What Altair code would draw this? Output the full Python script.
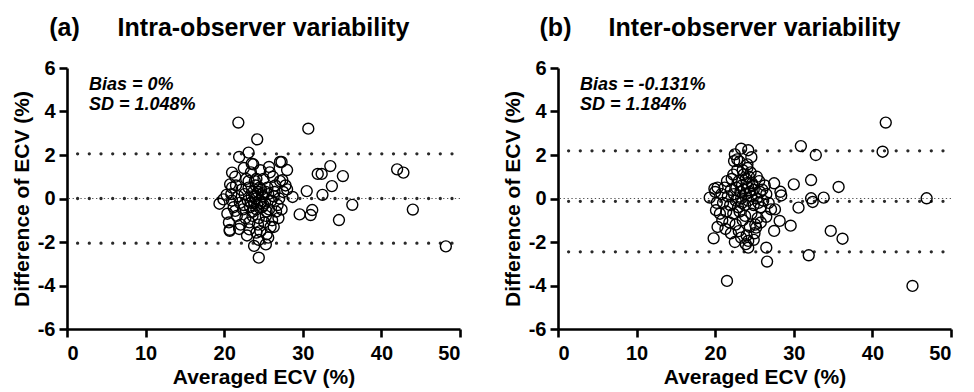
import altair as alt
import pandas as pd

FONT = "Liberation Sans"

# ---------- Panel (a): intra-observer ----------
a_avg = [21.8, 30.7, 24.2, 23.1, 21.9, 27.1, 27.3, 25.7, 23.7, 28.0, 21.0, 33.5,
         31.9, 32.4, 35.1, 42.0, 42.8, 33.7, 30.5, 32.5, 28.7, 36.3, 44.0, 29.6,
         31.0, 31.2, 34.6, 48.2, 24.4, 23.8, 25.3, 20.7, 20.7, 26.3, 25.4, 24.1,
         23.2, 27.4, 27.1, 28.0, 19.4, 19.9, 20.3, 20.75, 21.0, 21.4,
         22.5, 23.4, 24.6, 22.8, 23.9, 25.0, 26.2, 21.5, 22.2, 23.1, 24.0, 24.7,
         25.5, 26.5, 27.5, 21.8, 22.6, 23.5, 24.2, 24.9, 25.6, 26.3, 27.0, 22.0,
         23.0, 23.8, 24.5, 25.2, 26.0, 26.8, 21.2, 22.4, 23.3, 24.1, 24.8, 25.7,
         26.6, 21.6, 22.7, 23.6, 24.4, 25.3, 26.1, 22.1, 23.2, 24.3, 25.1, 25.9,
         22.9, 24.6, 25.6, 24.0, 24.3, 24.6, 23.7, 25.0, 24.2, 23.9, 24.8, 25.3,
         23.4, 24.5, 24.1, 23.6, 25.4, 22.5, 26.4, 23.1, 27.3, 20.4, 20.9, 21.4,
         20.6, 21.9, 27.8, 26.9, 25.8, 23.5, 24.4, 21.0]
a_diff = [3.49, 3.21, 2.72, 2.11, 1.91, 1.68, 1.68, 1.45, 1.57, 1.31, 1.19, 1.49,
          1.13, 1.13, 1.03, 1.34, 1.19, 0.57, 0.34, 0.17, 0.07, -0.29, -0.51, -0.73,
          -0.76, -0.53, -0.99, -2.20, -2.72, -2.18, -2.11, -1.49, -1.44, -1.31, -1.65, -1.57,
          -1.42, 0.84, 0.80, 0.42, -0.24, -0.04, 0.17, 0.65, 0.50, -0.57,
          1.4, 1.2, 1.3, 0.9, 0.8, 0.9, 1.0, 0.6, 0.4, 0.5, 0.6, 0.4,
          0.5, 0.6, 0.3, 0.1, 0.2, 0.1, 0.2, 0.1, 0.2, 0.1, 0.0, -0.2,
          -0.1, -0.2, -0.1, -0.2, -0.1, -0.3, -0.4, -0.5, -0.4, -0.5, -0.4, -0.5,
          -0.6, -0.8, -0.9, -0.8, -0.9, -0.8, -1.0, -1.2, -1.1, -1.2, -1.1, -1.3,
          -1.7, -1.5, -1.8, 0.0, 0.3, -0.2, 0.3, -0.3, -0.3, 0.1, 0.2, 0.3,
          -0.2, 0.5, 0.9, -0.6, -0.6, -0.3, 0.3, 0.8, -0.5, -0.7, 0.2, 1.0,
          -1.1, -1.4, 0.6, -0.9, 1.2, 1.6, -1.9, -0.1]
a_limits = [2.054, 0.0, -2.054]

# ---------- Panel (b): inter-observer ----------
b_avg = [41.7, 41.3, 30.9, 32.8, 23.3, 24.2, 22.5, 22.4, 24.1, 35.7, 32.2, 30.0,
         27.5, 28.3, 28.4, 33.8, 32.2, 32.4, 46.9, 30.6, 27.1, 27.6, 26.5, 28.2,
         29.6, 34.7, 36.2, 27.5, 26.5, 26.6, 31.9, 21.5, 45.1, 19.8, 20.3, 24.2,
         24.2, 23.3, 25.2, 19.9, 20.3, 19.3, 20.1,
         22.8, 23.6, 24.5, 25.3, 22.1, 23.0, 23.9, 24.7, 25.6, 26.3, 21.2, 22.0,
         22.7, 23.4, 24.2, 24.9, 25.7, 26.5, 20.8, 21.6, 22.4, 23.2, 23.9, 24.6,
         25.3, 26.1, 21.0, 21.9, 22.6, 23.4, 24.2, 24.9, 25.8, 20.6, 21.4, 22.3,
         23.1, 23.8, 24.6, 25.4, 21.8, 22.6, 23.5, 24.4, 25.1, 22.0, 23.0, 24.0,
         25.0, 23.6, 24.0, 23.3, 24.4, 23.8, 24.8, 22.9, 24.1, 23.1, 24.6, 22.3,
         25.5, 26.0, 20.2, 20.0, 21.5, 20.9, 22.5, 23.9, 25.8, 26.8, 21.3, 24.3,
         23.5, 22.8, 24.9]
b_diff = [3.49, 2.15, 2.41, 2.00, 2.29, 2.22, 2.03, 1.72, 1.57, 0.53, 0.85, 0.65,
          0.70, 0.31, 0.14, 0.04, 0.01, -0.16, 0.01, -0.42, -0.50, -0.50, -0.84, -1.03,
          -1.25, -1.49, -1.85, -1.49, -2.26, -2.90, -2.61, -3.79, -4.02, -1.83, -1.31, -1.95,
          -2.26, -1.80, -1.34, 0.45, 0.50, 0.04, -0.54,
          1.3, 1.1, 1.2, 1.0, 0.9, 0.8, 0.9, 0.7, 0.8, 0.6, 0.5, 0.4,
          0.5, 0.6, 0.5, 0.4, 0.3, 0.2, 0.2, 0.1, 0.2, 0.3, 0.2, 0.1,
          0.0, -0.1, -0.2, -0.3, -0.1, -0.2, -0.1, -0.3, -0.4, -0.7, -0.6, -0.7,
          -0.6, -0.8, -0.7, -0.9, -1.1, -1.2, -1.0, -1.3, -1.2, -1.6, -1.5, -1.7,
          -1.6, 0.4, 0.7, 0.0, 0.3, -0.3, 0.6, -0.4, 1.4, 1.7, 1.9, 1.1,
          -0.2, 0.4, -0.2, 0.3, 0.8, -1.0, -2.0, -2.1, -1.1, -0.2, -1.4, 1.0,
          1.3, 1.8, -1.9]
b_limits = [2.19, -0.131, -2.452]

x_ticks = [0, 10, 20, 30, 40, 50]
y_ticks = [-6, -4, -2, 0, 2, 4, 6]

W, H = 393, 261


def panel(avg, diff, limits, letter, title, bias_txt, sd_txt):
    xsc = alt.Scale(domain=[0, 50], nice=False, zero=False)
    ysc = alt.Scale(domain=[-6, 6], nice=False)
    xax = alt.Axis(values=x_ticks, title="Averaged ECV (%)",
                   labelExpr="'' + datum.value")
    yax = alt.Axis(values=y_ticks, title="Difference of ECV (%)",
                   labelExpr="'' + datum.value")

    pts = pd.DataFrame({"avg": avg, "diff": diff})
    points = alt.Chart(pts).mark_point(
        shape="circle", filled=False, color="black", size=120,
        strokeWidth=1.4, opacity=1
    ).encode(
        x=alt.X("avg:Q", scale=xsc, axis=xax),
        y=alt.Y("diff:Q", scale=ysc, axis=yax),
    )

    lim = pd.DataFrame({"diff": limits})
    lines = alt.Chart(lim).mark_rule(
        strokeDash=[0, 11.7], strokeCap="round", strokeWidth=3.3,
        color="#2a2a2a", strokeDashOffset=-8
    ).encode(y=alt.Y("diff:Q", scale=ysc, axis=yax))

    zero = alt.Chart(pd.DataFrame({"diff": [0.0]})).mark_rule(
        strokeDash=[1.3, 2.6], strokeWidth=1.2, color="#555555"
    ).encode(y=alt.Y("diff:Q", scale=ysc, axis=yax))

    txt_base = alt.Chart(pd.DataFrame({"k": [0]}))
    bias = txt_base.mark_text(
        align="left", baseline="alphabetic", font=FONT, fontSize=18,
        fontWeight="bold", fontStyle="italic", color="black"
    ).encode(x=alt.value(22), y=alt.value(22), text=alt.value(bias_txt))
    sd = txt_base.mark_text(
        align="left", baseline="alphabetic", font=FONT, fontSize=18,
        fontWeight="bold", fontStyle="italic", color="black"
    ).encode(x=alt.value(22), y=alt.value(42), text=alt.value(sd_txt))
    lab = txt_base.mark_text(
        align="center", baseline="alphabetic", font=FONT, fontSize=25,
        fontWeight="bold", color="black"
    ).encode(x=alt.value(-2.5), y=alt.value(-32), text=alt.value(letter))
    ttl = txt_base.mark_text(
        align="center", baseline="alphabetic", font=FONT, fontSize=25,
        fontWeight="bold", color="black"
    ).encode(x=alt.value(W / 2), y=alt.value(-32), text=alt.value(title))

    return alt.layer(zero, lines, points, bias, sd, lab, ttl).properties(
        width=W, height=H
    )


left = panel(a_avg, a_diff, a_limits, "(a)", "Intra-observer variability",
             "Bias = 0%", "SD = 1.048%")
right = panel(b_avg, b_diff, b_limits, "(b)", "Inter-observer variability",
              "Bias = -0.131%", "SD = 1.184%")

chart = alt.hconcat(left, right, spacing=40).properties(
    padding={"left": 11, "top": 16, "right": 2, "bottom": 2},
    background="white",
).configure_view(stroke=None).configure_axis(
    grid=False,
    domainColor="black", domainWidth=2.6,
    tickColor="black", tickWidth=2.6, tickSize=8,
    labelFont=FONT, labelFontSize=20, labelFontWeight="bold", labelColor="black",
    labelPadding=4,
    titleFont=FONT, titleFontSize=21, titleFontWeight="bold", titleColor="black",
    titlePadding=5,
).configure_axisX(labelPadding=6, titlePadding=3)

chart.save("out.html", embed_options={"renderer": "svg", "actions": False})
